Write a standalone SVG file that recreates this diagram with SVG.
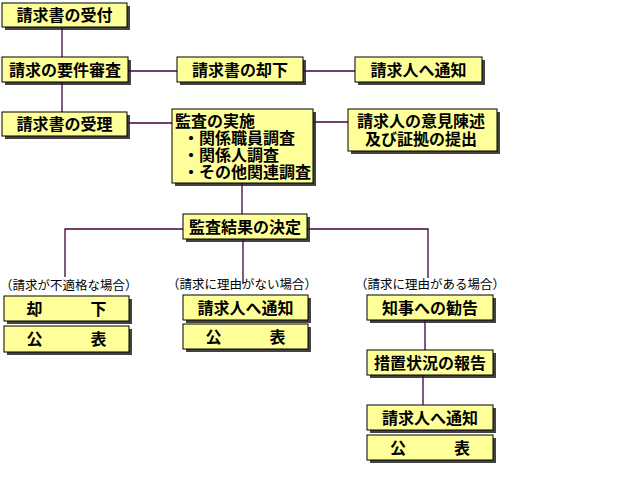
<svg xmlns="http://www.w3.org/2000/svg" width="640" height="480" viewBox="0 0 640 480">
<defs>
<style>
.box rect.s{fill:#222;opacity:0.85}
.box rect.b{fill:#ffff99;stroke:#000;stroke-width:1}
.box text{font-family:"Noto Sans CJK JP","Noto Sans CJK SC",sans-serif;font-size:16px;font-weight:bold;fill:#000;text-anchor:middle}
.box text.l{text-anchor:start}
.lbl{font-family:"Noto Sans CJK JP","Noto Sans CJK SC",sans-serif;font-size:12.5px;fill:#000;text-anchor:middle}
#connectors line,#connectors polyline{stroke:#400040;stroke-width:1.3;fill:none}
</style>
</defs>
<rect width="640" height="480" fill="#fff"/>
<g id="connectors">
<line x1="62" y1="27" x2="62" y2="57"/>
<line x1="62" y1="82" x2="62" y2="112"/>
<line x1="128" y1="71" x2="177" y2="71"/>
<line x1="303" y1="71" x2="355" y2="71"/>
<line x1="127" y1="123" x2="172" y2="123"/>
<line x1="313" y1="122" x2="348" y2="122"/>
<line x1="242" y1="183" x2="242" y2="214"/>
<polyline points="183,229 65,229 65,277"/>
<line x1="243" y1="239" x2="243" y2="284"/>
<polyline points="307,229 428,229 428,278"/>
<line x1="425" y1="320" x2="425" y2="350"/>
<line x1="423" y1="375" x2="423" y2="405"/>
</g>
<g id="n1" class="box"><rect class="s" x="5" y="6" width="125" height="24"/><rect class="b" x="2" y="3" width="125" height="24"/><text x="64.5" y="21">請求書の受付</text></g>
<g id="n2" class="box"><rect class="s" x="5" y="60" width="126" height="25"/><rect class="b" x="2" y="57" width="126" height="25"/><text x="65" y="75.5">請求の要件審査</text></g>
<g id="n3" class="box"><rect class="s" x="180" y="60" width="126" height="25"/><rect class="b" x="177" y="57" width="126" height="25"/><text x="240" y="75.5">請求書の却下</text></g>
<g id="n4" class="box"><rect class="s" x="358" y="60" width="127" height="25"/><rect class="b" x="355" y="57" width="127" height="25"/><text x="418.5" y="75.5">請求人へ通知</text></g>
<g id="n5" class="box"><rect class="s" x="5" y="115" width="125" height="24"/><rect class="b" x="2" y="112" width="125" height="24"/><text x="64.5" y="130">請求書の受理</text></g>
<g id="n6" class="box"><rect class="s" x="175" y="112" width="141" height="74"/><rect class="b" x="172" y="109" width="141" height="74"/>
<text class="l" x="175" y="127"><tspan x="175" y="127">監査の実施</tspan><tspan x="183" y="144">・関係職員調査</tspan><tspan x="183" y="161">・関係人調査</tspan><tspan x="183" y="178">・その他関連調査</tspan></text></g>
<g id="n7" class="box"><rect class="s" x="351" y="112" width="149" height="42"/><rect class="b" x="348" y="109" width="149" height="42"/><text x="422.5" y="127"><tspan x="421" y="127">請求人の意見陳述</tspan><tspan x="421" y="145">及び証拠の提出</tspan></text></g>
<g id="n8" class="box"><rect class="s" x="186" y="217" width="124" height="25"/><rect class="b" x="183" y="214" width="124" height="25"/><text x="245" y="232.5">監査結果の決定</text></g>
<text class="lbl" x="0" y="290" style="text-anchor:start">（請求が不適格な場合）</text>
<text class="lbl" x="242" y="289">（請求に理由がない場合）</text>
<text class="lbl" x="430" y="289">（請求に理由がある場合）</text>
<g id="n9" class="box"><rect class="s" x="7" y="299" width="125" height="25"/><rect class="b" x="4" y="296" width="125" height="25"/><text x="66.5" y="314.5">却　　　下</text></g>
<g id="n10" class="box"><rect class="s" x="7" y="329" width="125" height="26"/><rect class="b" x="4" y="326" width="125" height="26"/><text x="66.5" y="345">公　　　表</text></g>
<g id="n11" class="box"><rect class="s" x="186" y="298" width="125" height="25"/><rect class="b" x="183" y="295" width="125" height="25"/><text x="245.5" y="313.5">請求人へ通知</text></g>
<g id="n12" class="box"><rect class="s" x="186" y="327" width="125" height="25"/><rect class="b" x="183" y="324" width="125" height="25"/><text x="245.5" y="342.5">公　　　表</text></g>
<g id="n13" class="box"><rect class="s" x="370" y="298" width="126" height="25"/><rect class="b" x="367" y="295" width="126" height="25"/><text x="430" y="313.5">知事への勧告</text></g>
<g id="n14" class="box"><rect class="s" x="370" y="353" width="126" height="25"/><rect class="b" x="367" y="350" width="126" height="25"/><text x="430" y="368.5">措置状況の報告</text></g>
<g id="n15" class="box"><rect class="s" x="370" y="408" width="126" height="25"/><rect class="b" x="367" y="405" width="126" height="25"/><text x="430" y="423.5">請求人へ通知</text></g>
<g id="n16" class="box"><rect class="s" x="370" y="438" width="126" height="25"/><rect class="b" x="367" y="435" width="126" height="25"/><text x="430" y="453.5">公　　　表</text></g>
</svg>
